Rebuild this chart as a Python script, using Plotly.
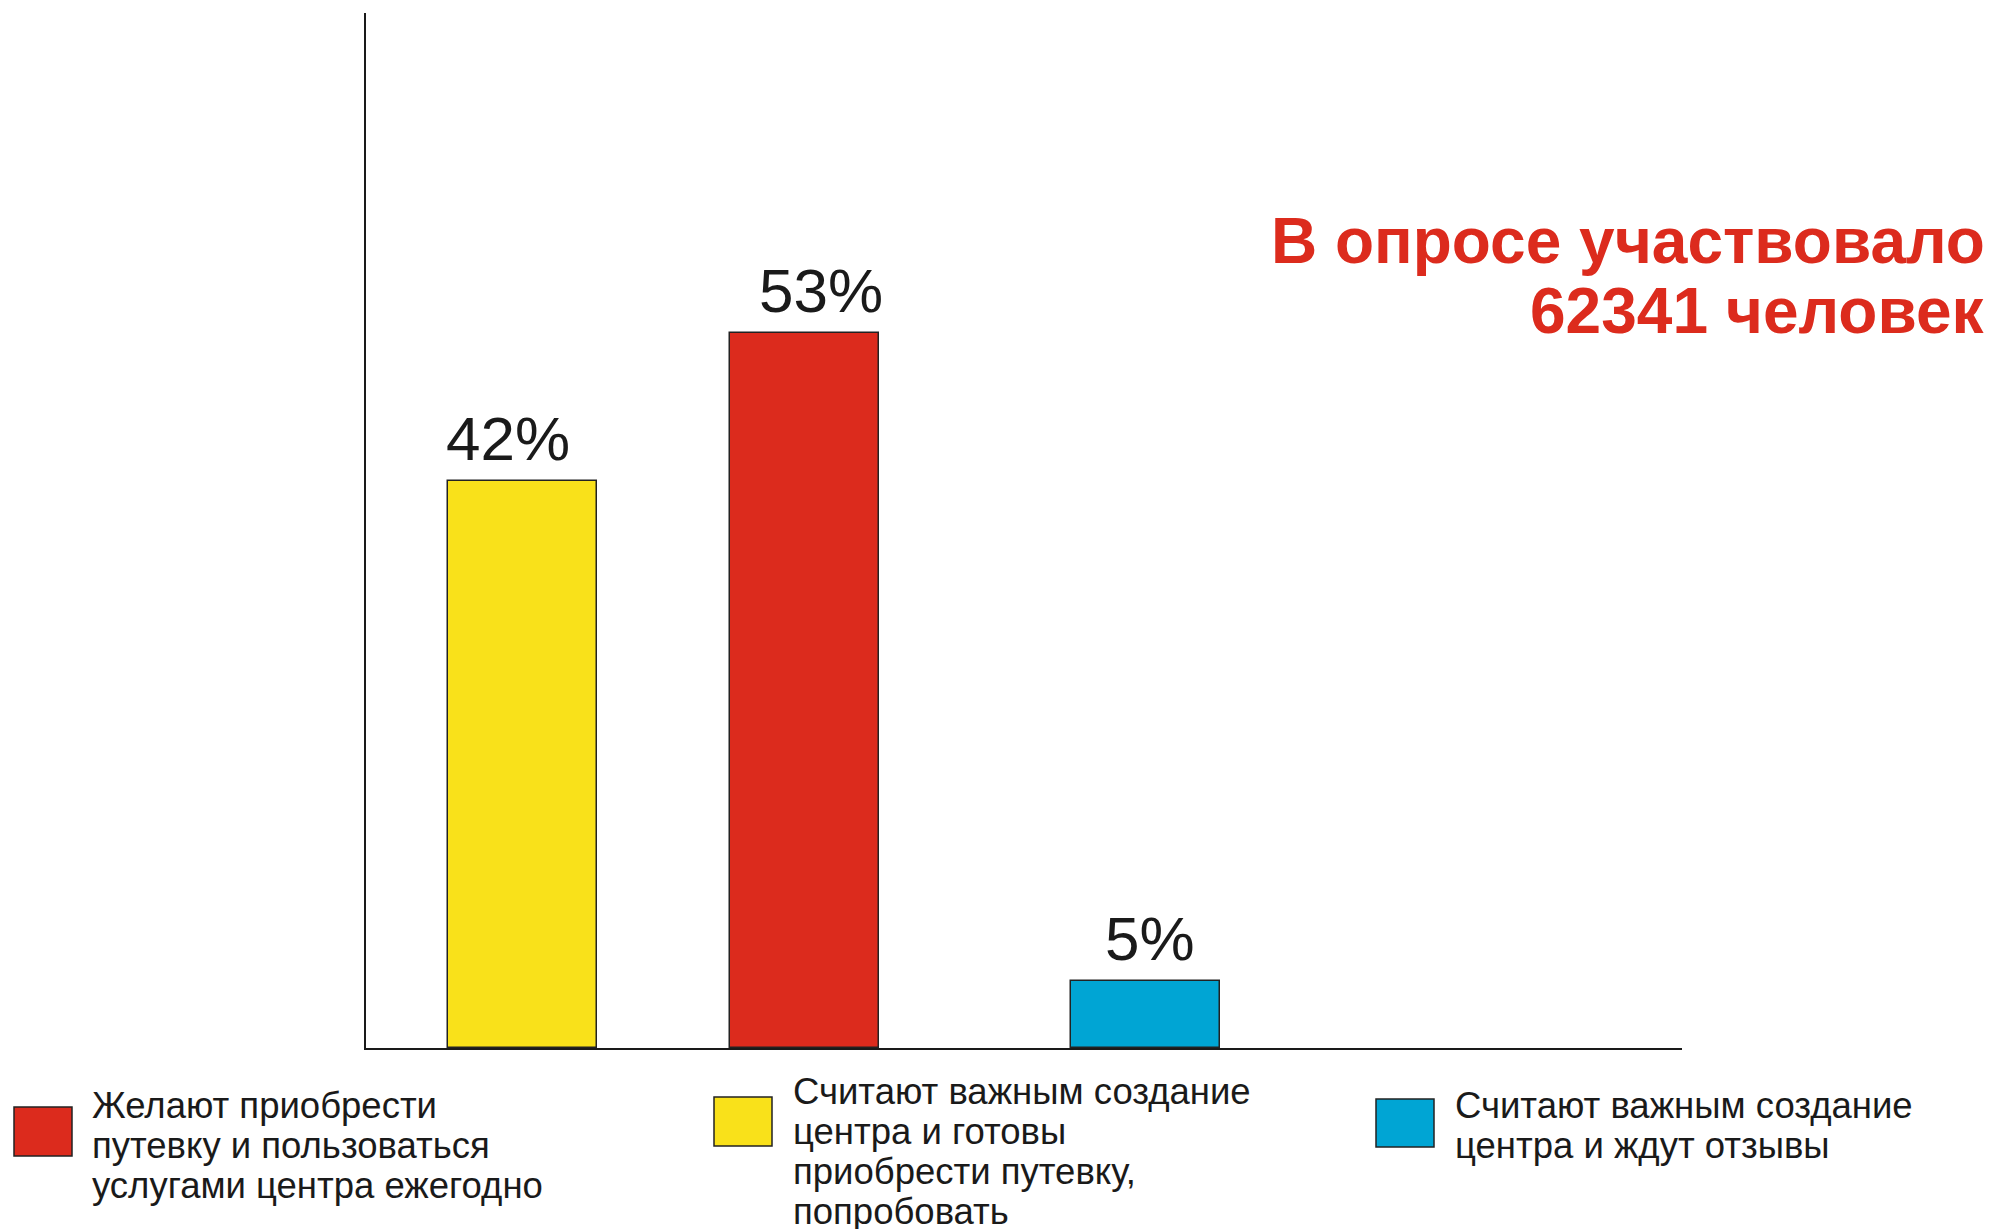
import plotly.graph_objects as go

# ---- data ----
categories = [
    "Считают важным создание центра и готовы приобрести путевку, попробовать",
    "Желают приобрести путевку и пользоваться услугами центра ежегодно",
    "Считают важным создание центра и ждут отзывы",
]
values = [42, 53, 5]
value_labels = ["42%", "53%", "5%"]
bar_colors = ["#f9e11a", "#dc2b1d", "#00a5d4"]
bar_slots = [1.05, 2.94, 5.23]          # horizontal slot of each bar (axis units)
label_xshift = [-14, 17, 5]             # small horizontal offsets of value labels (px)

legend_lines = [
    ["Желают приобрести", "путевку и пользоваться", "услугами центра ежегодно"],
    ["Считают важным создание", "центра и готовы", "приобрести путевку,", "попробовать"],
    ["Считают важным создание", "центра и ждут отзывы"],
]
legend_colors = ["#dc2b1d", "#f9e11a", "#00a5d4"]

title_lines = ["В опросе участвовало", "62341 человек"]

# ---- layout geometry (pixels) ----
W, H = 1990, 1229
PL, PR, PT, PB = 366, 1682, 13, 1048   # plot area box


def px_x(px):
    return (px - PL) / (PR - PL)


def px_y(py):
    return (PB - py) / (PB - PT)


fig = go.Figure()
fig.add_trace(go.Bar(
    x=bar_slots, y=values, width=1.0,
    marker=dict(color=bar_colors, line=dict(color="#222222", width=1.5)),
    hovertext=categories, showlegend=False,
))

annotations = []
for xs, v, lab, dx in zip(bar_slots, values, value_labels, label_xshift):
    annotations.append(dict(
        x=xs, y=v, xref="x", yref="y", text=lab, showarrow=False,
        xanchor="center", yanchor="bottom", yshift=6, xshift=dx,
        font=dict(family="Liberation Sans, Arial", size=62, color="#1a1a1a"),
    ))

# title (right aligned, red bold)
title_centers = [241, 311]
for line, cy in zip(title_lines, title_centers):
    annotations.append(dict(
        x=px_x(1987), y=px_y(cy), xref="paper", yref="paper", text="<b>%s</b>" % line,
        showarrow=False, xanchor="right", yanchor="middle",
        font=dict(family="Liberation Sans, Arial", size=64, color="#dc2b1d"),
    ))

# custom legend
swatches = [(14, 72, 1107, 1156), (714, 772, 1097, 1146), (1376, 1434, 1099, 1147)]
text_x = [90, 791, 1453]
first_line_center = [1105, 1091, 1105]
line_step = 40.3
shapes = []
for (x0, x1, y0, y1), col, lines, tx, fc in zip(swatches, legend_colors, legend_lines, text_x, first_line_center):
    shapes.append(dict(
        type="rect", xref="paper", yref="paper",
        x0=px_x(x0), x1=px_x(x1), y0=px_y(y1), y1=px_y(y0),
        fillcolor=col, line=dict(color="#222222", width=1.5),
    ))
    for i, ln in enumerate(lines):
        annotations.append(dict(
            x=px_x(tx), y=px_y(fc + i * line_step), xref="paper", yref="paper",
            text=ln, showarrow=False, xanchor="left", yanchor="middle",
            font=dict(family="Liberation Sans, Arial", size=36.5, color="#1a1a1a"),
        ))

fig.update_layout(
    width=W, height=H,
    margin=dict(l=PL, r=W - PR, t=PT, b=H - PB, pad=0),
    paper_bgcolor="white", plot_bgcolor="white",
    xaxis=dict(range=[0, 8.83], showgrid=False, zeroline=False, showticklabels=False,
               ticks="", showline=True, linecolor="#1a1a1a", linewidth=2, fixedrange=True),
    yaxis=dict(range=[0, 76.7], showgrid=False, zeroline=False, showticklabels=False,
               ticks="", showline=True, linecolor="#1a1a1a", linewidth=2, fixedrange=True),
    annotations=annotations, shapes=shapes,
    bargap=0,
)

fig.write_html("out.html")
